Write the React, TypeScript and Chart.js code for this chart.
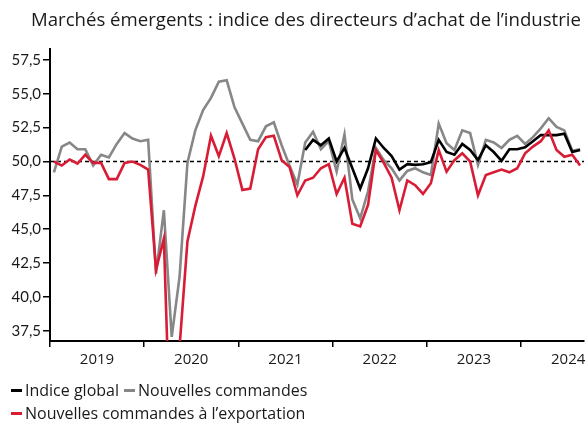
import React, { useEffect, useRef } from 'react';
import { Chart, registerables } from 'chart.js';

Chart.register(...registerables);

const FONT = 'Lato, "Open Sans", sans-serif';
const FONT_TEXT = '"Open Sans", Lato, sans-serif';
const TEXT = '#1a1a1a';

const titleText = 'Marchés émergents : indice des directeurs d’achat de l’industrie';
const yearLabels = ['2019', '2020', '2021', '2022', '2023', '2024'];
const yTicks = [37.5, 40, 42.5, 45, 47.5, 50, 52.5, 55, 57.5];
const refLevel = 50;

// Monthly values, Jan 2019 .. Aug 2024
const indiceGlobal: (number | null)[] = [
  null, null, null, null, null, null, null, null, null, null, null, null,
  null, null, null, null, null, null, null, null, null, null, null, null,
  null, null, null, null, null, null, null, null, 50.85, 51.6, 51.2, 51.7,
  50.0, 51.0, 49.5, 48.0, 49.5, 51.7, 51.0, 50.4, 49.4, 49.8, 49.75, 49.8,
  49.95, 51.6, 50.7, 50.5, 51.3, 50.85, 50.1, 51.2, 50.7, 50.05, 50.9, 50.9,
  51.05, 51.5, 51.95, 51.95, 51.95, 52.05, 50.7, 50.85,
];

const nouvellesCommandes: (number | null)[] = [
  49.2, 51.1, 51.4, 50.9, 50.9, 49.7, 50.5, 50.3, 51.3, 52.1, 51.7, 51.5,
  51.6, 41.7, 46.4, 37.05, 41.5, 49.9, 52.3, 53.8, 54.7, 55.9, 56.0, 54.0,
  52.8, 51.6, 51.5, 52.6, 52.9, 51.2, 49.7, 48.3, 51.4, 52.2, 50.9, 51.5,
  49.25, 52.0, 47.2, 45.8, 47.8, 51.0, 50.1, 49.5, 48.6, 49.3, 49.5, 49.2,
  49.0, 52.8, 51.35, 50.85, 52.3, 52.1, 49.75, 51.6, 51.4, 51.0, 51.6, 51.9,
  51.3, 51.8, 52.45, 53.2, 52.55, 52.3, 50.8, 50.9,
];

const commandesExport: (number | null)[] = [
  50.0, 49.7, 50.15, 49.85, 50.5, 49.9, 49.9, 48.7, 48.7, 49.9, 50.0, 49.75,
  49.4, 42.0, 44.3, 26.0, 36.3, 44.1, 46.7, 48.9, 51.9, 50.4, 52.1, 50.2,
  47.9, 48.0, 50.9, 51.8, 51.9, 50.1, 49.6, 47.5, 48.6, 48.8, 49.5, 49.8,
  47.6, 48.8, 45.4, 45.2, 46.8, 50.85, 49.9, 48.8, 46.4, 48.6, 48.25, 47.6,
  48.4, 50.85, 49.25, 50.1, 50.6, 50.0, 47.5, 49.0, 49.2, 49.4, 49.2, 49.5,
  50.6, 51.1, 51.5, 52.3, 50.85, 50.35, 50.5, 49.7,
];

const seriesNames = ['Indice global', 'Nouvelles commandes', 'Nouvelles commandes à l’exportation'];
const seriesColors = ['#000000', '#878787', '#d91c36'];

const toPoints = (arr: (number | null)[]) => arr.map((v, i) => ({ x: i + 0.5, y: v }));

const refLinePlugin = {
  id: 'refLine',
  beforeDatasetsDraw(chart: any) {
    const { ctx, chartArea, scales } = chart;
    const y = scales.y.getPixelForValue(refLevel);
    ctx.save();
    ctx.strokeStyle = '#000';
    ctx.lineWidth = 1.5;
    ctx.setLineDash([4, 3]);
    ctx.beginPath();
    ctx.moveTo(chartArea.left, y);
    ctx.lineTo(chartArea.right, y);
    ctx.stroke();
    ctx.restore();
  },
};

export default function App() {
  const ref = useRef<HTMLCanvasElement | null>(null);

  useEffect(() => {
    if (!ref.current) return;
    const monthCount = commandesExport.length;
    const chart = new Chart(ref.current, {
      type: 'line',
      data: {
        datasets: [
          { label: seriesNames[0], data: toPoints(indiceGlobal), borderColor: seriesColors[0], order: 1 },
          { label: seriesNames[1], data: toPoints(nouvellesCommandes), borderColor: seriesColors[1], order: 2 },
          { label: seriesNames[2], data: toPoints(commandesExport), borderColor: seriesColors[2], order: 0 },
        ] as any,
      },
      options: {
        animation: false,
        responsive: false,
        events: [],
        parsing: false,
        elements: {
          line: { borderWidth: 2.6, tension: 0, borderCapStyle: 'butt', borderJoinStyle: 'miter' },
          point: { radius: 0 },
        },
        layout: { padding: { left: 0, top: 49, right: 3, bottom: 54 } },
        plugins: { legend: { display: false }, tooltip: { enabled: false }, title: { display: false } },
        scales: {
          x: {
            type: 'linear',
            min: 0,
            max: monthCount,
            afterBuildTicks: (s: any) => {
              s.ticks = yearLabels.map((_, i) => ({ value: i * 12 }));
            },
            afterFit: (s: any) => {
              s.height = 30;
            },
            ticks: {
              autoSkip: false,
              maxRotation: 0,
              labelOffset: 47,
              padding: 4,
              color: TEXT,
              font: { family: FONT_TEXT, size: 15 },
              callback: (_v: any, i: number) => yearLabels[i],
            },
            grid: { drawOnChartArea: false, drawTicks: true, tickLength: 6, color: '#000', lineWidth: 1.5 },
            border: { display: true, color: '#000', width: 2 },
          },
          y: {
            min: 36.74,
            max: 58.31,
            afterBuildTicks: (s: any) => {
              s.ticks = yTicks.map((v) => ({ value: v }));
            },
            afterFit: (s: any) => {
              s.width = 50;
            },
            ticks: {
              padding: 2,
              color: TEXT,
              font: { family: FONT, size: 15 },
              callback: (v: any) => Number(v).toFixed(1).replace('.', ','),
            },
            grid: { drawOnChartArea: false, drawTicks: true, tickLength: 7, color: '#000', lineWidth: 1.5 },
            border: { display: true, color: '#000', width: 2 },
          },
        },
      },
      plugins: [refLinePlugin],
    });
    return () => chart.destroy();
  }, []);

  const marker = (color: string) => (
    <span style={{ display: 'inline-block', width: 11, height: 3, background: color, marginRight: 3, verticalAlign: 'middle', position: 'relative', top: -1 }} />
  );

  return (
    <div style={{ position: 'fixed', left: 0, top: 0, width: 587, height: 425, background: '#fff', overflow: 'hidden' }}>
      <canvas ref={ref} width={587} height={425} style={{ position: 'absolute', left: 0, top: 0, width: 587, height: 425 }} />
      <div style={{ position: 'absolute', left: 31, top: 7, fontFamily: FONT_TEXT, fontSize: 18.6, color: TEXT, whiteSpace: 'nowrap', lineHeight: '24px' }}>
        {titleText}
      </div>
      <div style={{ position: 'absolute', left: 11, top: 380, fontFamily: FONT_TEXT, fontSize: 16, color: TEXT, whiteSpace: 'nowrap', lineHeight: '21px' }}>
        <div>
          {marker(seriesColors[0])}
          <span style={{ marginRight: 5 }}>{seriesNames[0]}</span>
          {marker(seriesColors[1])}
          <span>{seriesNames[1]}</span>
        </div>
        <div style={{ marginTop: 2 }}>
          {marker(seriesColors[2])}
          <span>{seriesNames[2]}</span>
        </div>
      </div>
    </div>
  );
}
